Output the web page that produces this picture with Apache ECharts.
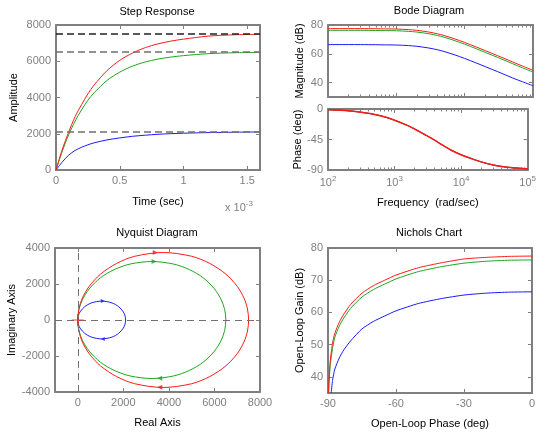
<!DOCTYPE html>
<html>
<head>
<meta charset="utf-8">
<script src="https://cdn.jsdelivr.net/npm/echarts@6/dist/echarts.min.js"></script>
<style>
  html, body { margin: 0; padding: 0; background: #fff; }
  #main { width: 539px; height: 432px; }
</style>
</head>
<body>
<div id="main"></div>
<script>
// ---- step response (time in ms, i.e. x 10^-3 sec) ----
var stepTime  = [0, 0.05, 0.1, 0.15, 0.2, 0.25, 0.3, 0.4, 0.5, 0.6, 0.7, 0.8, 0.9, 1.0, 1.2, 1.4, 1.6]
var stepRed   = [0, 1150, 2100, 2950, 3600, 4200, 4700, 5480, 6050, 6450, 6750, 6960, 7110, 7220, 7390, 7460, 7490]
var stepGreen = [0, 1050, 1950, 2700, 3310, 3850, 4270, 4940, 5400, 5730, 5960, 6120, 6230, 6310, 6420, 6470, 6490]
var stepBlue  = [0, 450, 820, 1080, 1250, 1390, 1500, 1660, 1770, 1860, 1920, 1970, 2005, 2030, 2065, 2085, 2100]
var stepFinal = [7500, 6500, 2100]

// ---- bode ----
var bodeFreq   = [100, 200, 300, 500, 700, 1000, 1500, 2000, 3000, 4000, 5000, 7000, 10000, 15000, 20000, 30000, 50000, 70000, 100000]
var magRed     = [77.5, 77.5, 77.5, 77.4, 77.3, 77.2, 76.8, 76.3, 75.1, 73.9, 72.7, 70.5, 67.9, 64.6, 62.2, 58.8, 54.4, 51.5, 48.5]
var magGreen   = [76.3, 76.3, 76.3, 76.2, 76.1, 76.0, 75.6, 75.1, 73.9, 72.7, 71.5, 69.3, 66.7, 63.4, 61.0, 57.6, 53.2, 50.3, 47.3]
var magBlue    = [66.4, 66.4, 66.4, 66.3, 66.2, 66.1, 65.7, 65.2, 64.0, 62.8, 61.6, 59.4, 56.8, 53.5, 51.1, 47.7, 43.3, 40.6, 37.8]
var phaseRed   = [-1, -2.5, -4.5, -8, -11.5, -16.5, -23.5, -29.5, -39, -46, -52, -60.5, -67.5, -74, -78, -82.5, -86, -87.2, -88.2]
var phaseGreen = [-1, -2.5, -4.5, -8, -11.5, -16.5, -23.5, -29.5, -39, -46, -52, -60.5, -67.5, -74, -78, -82.5, -86, -87.2, -88.2]
var phaseBlue  = [-1, -2.5, -4.5, -8, -11.5, -16.5, -23.5, -29.5, -39, -46, -52, -60.5, -67.5, -74, -78, -82.5, -86, -87.2, -88.2]

// ---- nyquist [real, imag] ----
var nyqRed = [[0,0],[50,610],[200,1210],[500,1870],[1000,2550],[1700,3140],[2500,3540],[3750,3750],[5000,3540],[5800,3140],[6500,2550],[7000,1870],[7300,1210],[7450,610],[7500,0],
  [7450,-610],[7300,-1210],[7000,-1870],[6500,-2550],[5800,-3140],[5000,-3540],[3750,-3750],[2500,-3540],[1700,-3140],[1000,-2550],[500,-1870],[200,-1210],[50,-610],[0,0]]
var nyqGreen = [[0,0],[50,570],[200,1120],[500,1730],[1000,2350],[1600,2800],[2300,3110],[3250,3250],[4200,3110],[4900,2800],[5500,2350],[6000,1730],[6300,1120],[6450,570],[6500,0],
  [6450,-570],[6300,-1120],[6000,-1730],[5500,-2350],[4900,-2800],[4200,-3110],[3250,-3250],[2300,-3110],[1600,-2800],[1000,-2350],[500,-1730],[200,-1120],[50,-570],[0,0]]
var nyqBlue = [[0,0],[30,250],[100,450],[300,735],[600,950],[1050,1050],[1500,950],[1800,735],[2000,450],[2070,250],[2100,0],
  [2070,-250],[2000,-450],[1800,-735],[1500,-950],[1050,-1050],[600,-950],[300,-735],[100,-450],[30,-250],[0,0]]
var arrowsRed   = [[3400, 3750], [3600, -3730]]
var arrowsGreen = [[3350, 3250], [3600, -3230]]
var arrowsBlue  = [[1100, 1050], [1100, -1050]]
var criticalPoint = [[-1, 0]]

// ---- nichols [phase, gain] ----
var nicholsRed   = [[0,77.5],[-10,77.4],[-20,77.1],[-30,76.6],[-40,75.4],[-50,73.9],[-60,71.6],[-65,70.0],[-70,68.3],[-75,66.0],[-80,62.5],[-83,59.5],[-85,57.0],[-87,53.5],[-88,50.5],[-89,45],[-89.5,40],[-89.8,35]]
var nicholsGreen = [[0,76.3],[-10,76.2],[-20,75.9],[-30,75.3],[-40,74.2],[-50,72.7],[-60,70.4],[-65,68.8],[-70,67.1],[-75,64.8],[-80,61.3],[-83,58.3],[-85,55.8],[-87,52.3],[-88,48.8],[-89,43.8],[-89.5,38.8],[-89.7,35]]
var nicholsBlue  = [[0,66.4],[-10,66.3],[-20,66.0],[-30,65.4],[-40,64.3],[-50,62.8],[-60,60.5],[-65,58.9],[-70,57.2],[-75,54.9],[-80,51.2],[-83,48.4],[-85,45.9],[-87,42.4],[-88,38.9],[-88.6,35]]

// ---- tick values ----
var timeTicks      = [0, 0.5, 1, 1.5]
var freqTicks      = [100, 1000, 10000, 100000]
var freqMinorTicks = [200,300,400,500,600,700,800,900, 2000,3000,4000,5000,6000,7000,8000,9000, 20000,30000,40000,50000,60000,70000,80000,90000]
var magTicks       = [40, 60, 80]
var realTicks      = [0, 2000, 4000, 6000, 8000]
var gainTicks      = [40, 50, 60, 70, 80]

var RED = '#ff1a1a', GREEN = '#1aa81a', BLUE = '#1a1aff'
var AXIS_COLOR = '#7f7f7f', LABEL_COLOR = '#808080'
var FONT = 'Liberation Sans'

function zip(xs, ys) {
  var out = []
  for (var i = 0; i < xs.length; ++i) out.push([xs[i], ys[i]])
  return out
}

function plain(v) {
  return '' + v
}

function makeAxis(grid, pos, opt) {
  var main = (pos === 'bottom' || pos === 'left')
  var a = {
    type: opt.type || 'value',
    gridIndex: grid,
    position: pos,
    min: opt.min,
    max: opt.max,
    axisLine: {show: opt.line !== false, onZero: false, lineStyle: {color: AXIS_COLOR, width: 2}},
    axisTick: {show: true, inside: true, length: opt.tickLen || 4, lineStyle: {color: AXIS_COLOR, width: 1}},
    axisLabel: {show: main && opt.labels !== false, color: LABEL_COLOR, fontSize: 11, fontFamily: FONT, margin: 5,
                showMinLabel: true, showMaxLabel: true, formatter: opt.formatter || plain},
    splitLine: {show: false}
  }
  if (opt.interval) a.interval = opt.interval
  if (opt.type === 'log') a.logBase = 10
  if (opt.ticks) {
    a.axisTick.customValues = opt.ticks
    a.axisLabel.customValues = opt.ticks
  }
  if (opt.rich) a.axisLabel.rich = opt.rich
  if (main && opt.name) {
    a.name = opt.name
    a.nameLocation = 'middle'
    a.nameGap = opt.nameGap
    a.nameTextStyle = {color: '#000', fontSize: 11, fontFamily: FONT}
  }
  return a
}

var xAxes = [], yAxes = []
function box(grid, xo, yo) {
  xAxes.push(makeAxis(grid, 'bottom', xo))
  xAxes.push(makeAxis(grid, 'top', xo))
  yAxes.push(makeAxis(grid, 'left', yo))
  yAxes.push(makeAxis(grid, 'right', yo))
}

var powRich = {
  b: {color: LABEL_COLOR, fontSize: 11, fontFamily: FONT},
  e: {color: LABEL_COLOR, fontSize: 8, fontFamily: FONT, padding: [0, 0, 8, 0]}
}
function powLabel(v) {
  return '{b|10}{e|' + Math.round(Math.log(v) / Math.LN10) + '}'
}

// 0 step
box(0, {min: 0, max: 1.6, ticks: timeTicks, name: 'Time (sec)', nameGap: 26},
       {min: 0, max: 8000, interval: 2000, name: 'Amplitude', nameGap: 37})
// 1 bode magnitude
box(1, {type: 'log', min: 100, max: 100000, ticks: freqTicks, labels: false},
       {min: 30, max: 80, ticks: magTicks, name: 'Magnitude (dB)', nameGap: 23})
// 2 bode phase
box(2, {type: 'log', min: 100, max: 100000, ticks: freqTicks, formatter: powLabel, rich: powRich,
        name: 'Frequency  (rad/sec)', nameGap: 27},
       {min: -90, max: 0, interval: 45, name: 'Phase (deg)', nameGap: 23})
// 3 nyquist
box(3, {min: -1000, max: 8000, ticks: realTicks, name: 'Real Axis', nameGap: 25},
       {min: -4000, max: 4000, interval: 2000, name: 'Imaginary Axis', nameGap: 37})
// 4 nichols
box(4, {min: -90, max: 0, interval: 30, name: 'Open-Loop Phase (deg)', nameGap: 25},
       {min: 35, max: 80, ticks: gainTicks, name: 'Open-Loop Gain (dB)', nameGap: 23})

// minor log ticks for the bode axes (10..13)
xAxes.push(makeAxis(1, 'bottom', {type: 'log', min: 100, max: 100000, ticks: freqMinorTicks, line: false, tickLen: 2.5, labels: false}))
xAxes.push(makeAxis(1, 'top',    {type: 'log', min: 100, max: 100000, ticks: freqMinorTicks, line: false, tickLen: 2.5, labels: false}))
xAxes.push(makeAxis(2, 'bottom', {type: 'log', min: 100, max: 100000, ticks: freqMinorTicks, line: false, tickLen: 2.5, labels: false}))
xAxes.push(makeAxis(2, 'top',    {type: 'log', min: 100, max: 100000, ticks: freqMinorTicks, line: false, tickLen: 2.5, labels: false}))

function line(grid, data, color, extra) {
  var s = {
    type: 'line', xAxisIndex: grid * 2, yAxisIndex: grid * 2,
    data: data, showSymbol: false, symbol: 'none', smooth: 0.3, silent: true,
    lineStyle: {color: color, width: 1}, itemStyle: {color: color}, z: 3
  }
  for (var k in extra) s[k] = extra[k]
  return s
}

function finalLine(v, color) {
  return {silent: true, symbol: 'none', label: {show: false},
          lineStyle: {type: [7, 4], color: color, width: 1.5},
          data: [{yAxis: v}]}
}

function arrows(data, color, size) {
  var items = []
  for (var i = 0; i < data.length; ++i) {
    items.push({value: data[i], symbolRotate: data[i][1] > 0 ? -90 : 90})
  }
  return {type: 'scatter', xAxisIndex: 6, yAxisIndex: 6, data: items, symbol: 'triangle',
          symbolSize: size, itemStyle: {color: color}, silent: true, z: 4}
}

var nyqDash = {silent: true, symbol: 'none', label: {show: false},
               lineStyle: {type: [7, 5], color: '#707070', width: 1},
               data: [{xAxis: 0}, {yAxis: 0}]}

var series = [
  line(0, zip(stepTime, stepBlue), BLUE, {markLine: finalLine(stepFinal[2], '#707070')}),
  line(0, zip(stepTime, stepGreen), GREEN, {markLine: finalLine(stepFinal[1], '#707070')}),
  line(0, zip(stepTime, stepRed), RED, {markLine: finalLine(stepFinal[0], '#222222')}),

  line(1, zip(bodeFreq, magBlue), BLUE),
  line(1, zip(bodeFreq, magGreen), GREEN),
  line(1, zip(bodeFreq, magRed), RED),

  line(2, zip(bodeFreq, phaseBlue), BLUE),
  line(2, zip(bodeFreq, phaseGreen), GREEN),
  line(2, zip(bodeFreq, phaseRed), RED, {lineStyle: {color: RED, width: 1.5}}),

  line(3, nyqBlue, BLUE, {markLine: nyqDash}),
  line(3, nyqGreen, GREEN),
  line(3, nyqRed, RED),
  arrows(arrowsBlue, BLUE, 4),
  arrows(arrowsGreen, GREEN, 5),
  arrows(arrowsRed, RED, 5),
  {type: 'scatter', xAxisIndex: 6, yAxisIndex: 6, data: criticalPoint, silent: true, z: 5,
   symbol: 'path://M0,4.5h10v1h-10z M4.5,0h1v10h-1z', symbolSize: 12, itemStyle: {color: RED}},

  line(4, nicholsBlue, BLUE, {smooth: 0.2}),
  line(4, nicholsGreen, GREEN, {smooth: 0.2}),
  line(4, nicholsRed, RED, {smooth: 0.2})
]

function title(text, x, y) {
  return {type: 'text', x: x, y: y, silent: true,
          style: {text: text, fill: '#000', fontSize: 11, fontFamily: FONT,
                  align: 'center', verticalAlign: 'middle', textAlign: 'center', textVerticalAlign: 'middle'}}
}

var option = {
  backgroundColor: '#fff',
  animation: false,
  grid: [
    {left: 56, top: 25, width: 204, height: 145},
    {left: 328, top: 25, width: 205, height: 72},
    {left: 328, top: 109, width: 205, height: 61},
    {left: 55, top: 248, width: 205, height: 144},
    {left: 328, top: 248, width: 204, height: 145}
  ],
  xAxis: xAxes,
  yAxis: yAxes,
  series: series,
  graphic: [
    title('Step Response', 157, 12),
    title('Bode Diagram', 429, 11),
    title('Nyquist Diagram', 157, 233),
    title('Nichols Chart', 429, 233),
    {type: 'text', x: 225, y: 200, silent: true,
     style: {text: '{a|x 10}{b|-3}', rich: {
       a: {fill: LABEL_COLOR, fontSize: 11, fontFamily: FONT},
       b: {fill: LABEL_COLOR, fontSize: 8, fontFamily: FONT, padding: [0, 0, 8, 0]}}}}
  ]
}

var chart = echarts.init(document.getElementById('main'))
chart.setOption(option)
</script>
</body>
</html>
